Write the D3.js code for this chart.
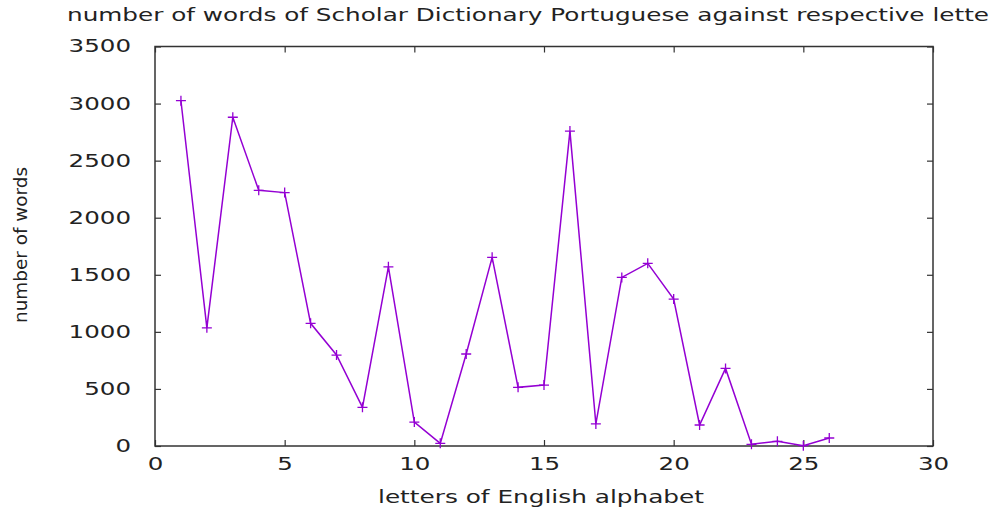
<!DOCTYPE html>
<html>
<head>
<meta charset="utf-8">
<script src="https://cdn.jsdelivr.net/npm/d3@7"></script>
<style>
  body { margin: 0; background: #fff; }
  svg { display: block; }
  text { font-family: "DejaVu Sans", sans-serif; fill: #222; }
</style>
</head>
<body>
<svg id="chart" width="989" height="511"></svg>
<script>
const letters = d3.range(1, 27);
const wordCounts = [3025, 1035, 2880, 2240, 2220, 1075, 797, 339, 1570, 210,
  23, 806, 1653, 514, 534, 2759, 193, 1477, 1600, 1287,
  184, 680, 15, 41, 3, 70];
const xTicks = [0, 5, 10, 15, 20, 25, 30];
const yTicks = [0, 500, 1000, 1500, 2000, 2500, 3000, 3500];
const titleText = "number of words of Scholar Dictionary Portuguese against respective letters";

const svg = d3.select("#chart");
const margin = { top: 46.5, right: 56, bottom: 65, left: 155 };
const width = +svg.attr("width") - margin.left - margin.right;
const height = +svg.attr("height") - margin.top - margin.bottom;

const g = svg.append("g").attr("transform", `translate(${margin.left},${margin.top})`);

const x = d3.scaleLinear().domain([0, 30]).range([0, width]);
const y = d3.scaleLinear().domain([0, 3500]).range([height, 0]);

// inward ticks on all four sides (gnuplot style)
const axisColor = "#333";
g.append("g").attr("transform", `translate(0,${height})`)
  .call(d3.axisBottom(x).tickValues(xTicks).tickSizeInner(-6).tickSizeOuter(0).tickPadding(12))
  .call(a => a.select(".domain").remove());
g.append("g").call(d3.axisTop(x).tickValues(xTicks).tickSizeInner(-6).tickSizeOuter(0).tickFormat(""))
  .call(a => a.select(".domain").remove());
g.append("g")
  .call(d3.axisLeft(y).tickValues(yTicks).tickFormat(d3.format("d")).tickSizeInner(-6).tickSizeOuter(0).tickPadding(24))
  .call(a => a.select(".domain").remove());
g.append("g").attr("transform", `translate(${width},0)`)
  .call(d3.axisRight(y).tickValues(yTicks).tickSizeInner(-6).tickSizeOuter(0).tickFormat(""))
  .call(a => a.select(".domain").remove());

g.selectAll(".tick line").attr("stroke", axisColor).attr("stroke-width", 1.2);
g.selectAll(".tick text")
  .attr("font-size", 17)
  .attr("fill", "#222")
  .style("font-family", "DejaVu Sans, sans-serif")
  .attr("textLength", function () { return this.textContent.length * 15.6; })
  .attr("lengthAdjust", "spacingAndGlyphs");

g.append("rect")
  .attr("width", width).attr("height", height)
  .attr("fill", "none").attr("stroke", axisColor).attr("stroke-width", 1.5);

const line = d3.line().x((d, i) => x(letters[i])).y(d => y(d));
g.append("path")
  .datum(wordCounts)
  .attr("fill", "none")
  .attr("stroke", "#9400d3")
  .attr("stroke-width", 1.5)
  .attr("d", line);

const cross = 5;
g.selectAll(".pt")
  .data(wordCounts)
  .enter()
  .append("path")
  .attr("class", "pt")
  .attr("stroke", "#9400d3")
  .attr("stroke-width", 1.3)
  .attr("d", (d, i) => {
    const cx = x(letters[i]), cy = y(d);
    return `M${cx - cross},${cy}H${cx + cross}M${cx},${cy - cross}V${cy + cross}`;
  });

// title runs off the right edge in the original, "lette" ends at the border
const title = svg.append("text")
  .attr("x", 67).attr("y", 21)
  .attr("font-size", 17)
  .text(titleText);
const fullLen = title.node().getComputedTextLength();
const partLen = title.node().getSubStringLength(0, titleText.length - 2);
title.attr("textLength", fullLen * (922 / partLen)).attr("lengthAdjust", "spacingAndGlyphs");

svg.append("text")
  .attr("x", 541).attr("y", 503)
  .attr("text-anchor", "middle")
  .attr("font-size", 17)
  .attr("textLength", 326).attr("lengthAdjust", "spacingAndGlyphs")
  .text("letters of English alphabet");

svg.append("text")
  .attr("transform", "translate(27,245) rotate(-90)")
  .attr("text-anchor", "middle")
  .attr("font-size", 17)
  .attr("textLength", 156).attr("lengthAdjust", "spacingAndGlyphs")
  .text("number of words");
</script>
</body>
</html>
